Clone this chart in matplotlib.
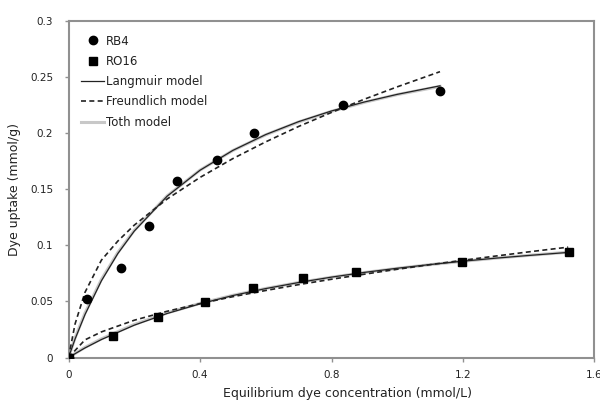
import numpy as np
import matplotlib
matplotlib.use("Agg")
import matplotlib.pyplot as plt

plt.rcParams["font.family"] = ["DejaVu Sans"]

# measured points
rb4_c = [0, 0.055, 0.160, 0.246, 0.329, 0.452, 0.565, 0.835, 1.129]
rb4_q = [0, 0.052, 0.080, 0.117, 0.157, 0.176, 0.200, 0.2245, 0.237]
ro16_c = [0, 0.134, 0.271, 0.415, 0.562, 0.714, 0.874, 1.198, 1.522]
ro16_q = [0, 0.0192, 0.0364, 0.049, 0.0623, 0.0707, 0.0766, 0.0855, 0.094]

# model curves
rb4_fit_c = [0, 0.02, 0.05, 0.1, 0.15, 0.2, 0.3, 0.4, 0.5, 0.6, 0.7, 0.8, 0.9, 1.0, 1.13]
rb4_langmuir = [0, 0.0165, 0.0382, 0.0683, 0.0926, 0.1126, 0.1437, 0.1668, 0.1845,
                0.1986, 0.2101, 0.2196, 0.2276, 0.2344, 0.2420]
rb4_freundlich = [0, 0.030, 0.058, 0.0867, 0.1037, 0.1179, 0.1412, 0.1604, 0.1772,
                  0.1921, 0.2058, 0.2183, 0.2301, 0.2411, 0.2546]
rb4_toth = [0, 0.0175, 0.0395, 0.0695, 0.0935, 0.1132, 0.1440, 0.1669, 0.1844,
            0.1984, 0.2098, 0.2193, 0.2273, 0.2342, 0.2415]

ro16_fit_c = [0, 0.05, 0.1, 0.2, 0.3, 0.4, 0.5, 0.6, 0.7, 0.8, 0.9, 1.0, 1.1, 1.2, 1.3, 1.4, 1.52]
ro16_langmuir = [0, 0.0085, 0.0160, 0.0288, 0.0392, 0.0478, 0.0552, 0.0614, 0.0668,
                 0.0716, 0.0758, 0.0795, 0.0828, 0.0858, 0.0885, 0.0909, 0.0936]
ro16_freundlich = [0, 0.0157, 0.0228, 0.0332, 0.0412, 0.0480, 0.0542, 0.0597, 0.0649,
                   0.0697, 0.0742, 0.0786, 0.0827, 0.0866, 0.0904, 0.0941, 0.0983]
ro16_toth = [0, 0.0090, 0.0166, 0.0294, 0.0397, 0.0482, 0.0554, 0.0615, 0.0668,
             0.0715, 0.0757, 0.0794, 0.0827, 0.0857, 0.0885, 0.0910, 0.0938]

x_ticks = [0, 0.4, 0.8, 1.2, 1.6]
y_ticks = [0, 0.05, 0.1, 0.15, 0.2, 0.25, 0.3]

fig = plt.figure(figsize=(6, 4.03), dpi=100)
ax = fig.add_axes([0.1142, 0.1129, 0.8766, 0.8357])

grey = "#c8c8c8"
ax.plot(rb4_fit_c, rb4_toth, color=grey, lw=2.2, label="Toth model", zorder=2)
ax.plot(ro16_fit_c, ro16_toth, color=grey, lw=2.2, zorder=2)
ax.plot(rb4_fit_c, rb4_langmuir, color="#222222", lw=0.9, label="Langmuir model", zorder=3)
ax.plot(ro16_fit_c, ro16_langmuir, color="#222222", lw=0.9, zorder=3)
ax.plot(rb4_fit_c, rb4_freundlich, color="#222222", lw=1.2, ls=(0, (3, 2)),
        label="Freundlich model", zorder=3)
ax.plot(ro16_fit_c, ro16_freundlich, color="#222222", lw=1.2, ls=(0, (3, 2)), zorder=3)
ax.plot(rb4_c, rb4_q, "o", color="black", ms=6, label="RB4", zorder=4)
ax.plot(ro16_c, ro16_q, "s", color="black", ms=5.5, label="RO16", zorder=4)

ax.set_xlim(0, 1.6)
ax.set_ylim(0, 0.3)
ax.set_xticks(x_ticks)
ax.set_xticklabels(["0", "0.4", "0.8", "1.2", "1.6"])
ax.set_yticks(y_ticks)
ax.set_yticklabels(["0", "0.05", "0.1", "0.15", "0.2", "0.25", "0.3"])
ax.tick_params(direction="out", length=3, width=1, color="#909090", labelsize=7.5,
               labelcolor="#222222")
ax.tick_params(axis="y", pad=8)
ax.tick_params(axis="x", pad=6)
for s in ax.spines.values():
    s.set_color("#909090")
    s.set_linewidth(1.5)

ax.set_xlabel("Equilibrium dye concentration (mmol/L)", fontsize=9, color="#222222")
ax.set_ylabel("Dye uptake (mmol/g)", fontsize=9, color="#222222")
ax.xaxis.set_label_coords(0.53, -0.088)
ax.yaxis.set_label_coords(-0.09, 0.5)

h, l = ax.get_legend_handles_labels()
order = [l.index(n) for n in ["RB4", "RO16", "Langmuir model", "Freundlich model", "Toth model"]]
leg = ax.legend([h[i] for i in order], [l[i] for i in order], loc="upper left",
                bbox_to_anchor=(0.01, 0.98), frameon=False, fontsize=8.5,
                handlelength=2.0, handletextpad=0.1, labelspacing=0.62, borderaxespad=0.2)
for t in leg.get_texts():
    t.set_color("#222222")

fig.savefig("out.png", dpi=100)
